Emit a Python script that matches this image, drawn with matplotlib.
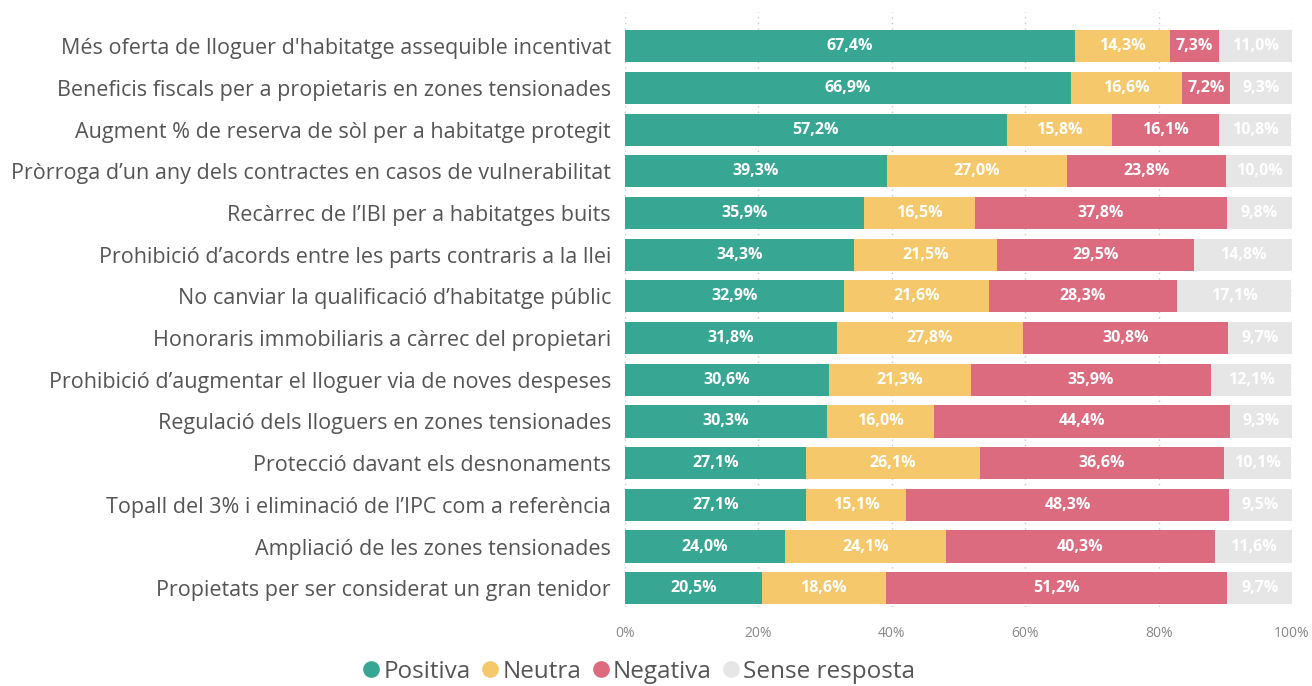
import numpy as np
import matplotlib
matplotlib.use("Agg")
import matplotlib.pyplot as plt
from matplotlib.lines import Line2D

categories = [
    "Més oferta de lloguer d'habitatge assequible incentivat",
    "Beneficis fiscals per a propietaris en zones tensionades",
    "Augment % de reserva de sòl per a habitatge protegit",
    "Pròrroga d’un any dels contractes en casos de vulnerabilitat",
    "Recàrrec de l’IBI per a habitatges buits",
    "Prohibició d’acords entre les parts contraris a la llei",
    "No canviar la qualificació d’habitatge públic",
    "Honoraris immobiliaris a càrrec del propietari",
    "Prohibició d’augmentar el lloguer via de noves despeses",
    "Regulació dels lloguers en zones tensionades",
    "Protecció davant els desnonaments",
    "Topall del 3% i eliminació de l’IPC com a referència",
    "Ampliació de les zones tensionades",
    "Propietats per ser considerat un gran tenidor",
]

positiva = [67.4, 66.9, 57.2, 39.3, 35.9, 34.3, 32.9, 31.8, 30.6, 30.3, 27.1, 27.1, 24.0, 20.5]
neutra = [14.3, 16.6, 15.8, 27.0, 16.5, 21.5, 21.6, 27.8, 21.3, 16.0, 26.1, 15.1, 24.1, 18.6]
negativa = [7.3, 7.2, 16.1, 23.8, 37.8, 29.5, 28.3, 30.8, 35.9, 44.4, 36.6, 48.3, 40.3, 51.2]
sense = [11.0, 9.3, 10.8, 10.0, 9.8, 14.8, 17.1, 9.7, 12.1, 9.3, 10.1, 9.5, 11.6, 9.7]

series_names = ["Positiva", "Neutra", "Negativa", "Sense resposta"]
colors = ["#37A794", "#F5C96B", "#DD6B7F", "#E6E6E6"]
xticks = [0, 20, 40, 60, 80, 100]

plt.rcParams['font.family'] = ['Open Sans', 'DejaVu Sans']

fig = plt.figure(figsize=(13.12, 6.86), dpi=100)
ax = fig.add_axes([625 / 1312, 1 - 607 / 686, (1292 - 625) / 1312, 595 / 686])

y = np.arange(len(categories))
left = np.zeros(len(categories))
for vals, col in zip([positiva, neutra, negativa, sense], colors):
    vals = np.array(vals)
    ax.barh(y, vals, left=left, height=0.77, color=col, zorder=2)
    for yi, l, v in zip(y, left, vals):
        ax.text(l + v / 2, yi, f"{v:.1f}%".replace(".", ","), ha="center", va="center",
                color="white", fontsize=11.5, fontweight="bold", zorder=3)
    left = left + vals

ax.set_xlim(0, 100)
ax.set_ylim(13.45, -0.82)
ax.set_yticks(y)
ax.set_yticklabels(categories, fontsize=15.5, color="#555555")
ax.set_xticks(xticks)
ax.set_xticklabels([f"{t}%" for t in xticks], fontsize=10, color="#888888")
ax.tick_params(axis="both", length=0)
ax.tick_params(axis="y", pad=10)
ax.tick_params(axis="x", pad=14)
for s in ax.spines.values():
    s.set_visible(False)
ax.grid(axis="x", color="#C8C8C8", linestyle=(0, (1, 3)), linewidth=1, zorder=0)

handles = [Line2D([], [], marker="o", linestyle="", markersize=11, color=c) for c in colors]
fig.legend(handles, series_names, loc="center", bbox_to_anchor=(636 / 1312, 1 - 672 / 686),
           ncol=4, frameon=False, fontsize=17.5, handletextpad=-0.1, columnspacing=0.2,
           handlelength=1.2, labelcolor="#555555", borderaxespad=0, borderpad=0)

fig.savefig("out.png", dpi=100)
